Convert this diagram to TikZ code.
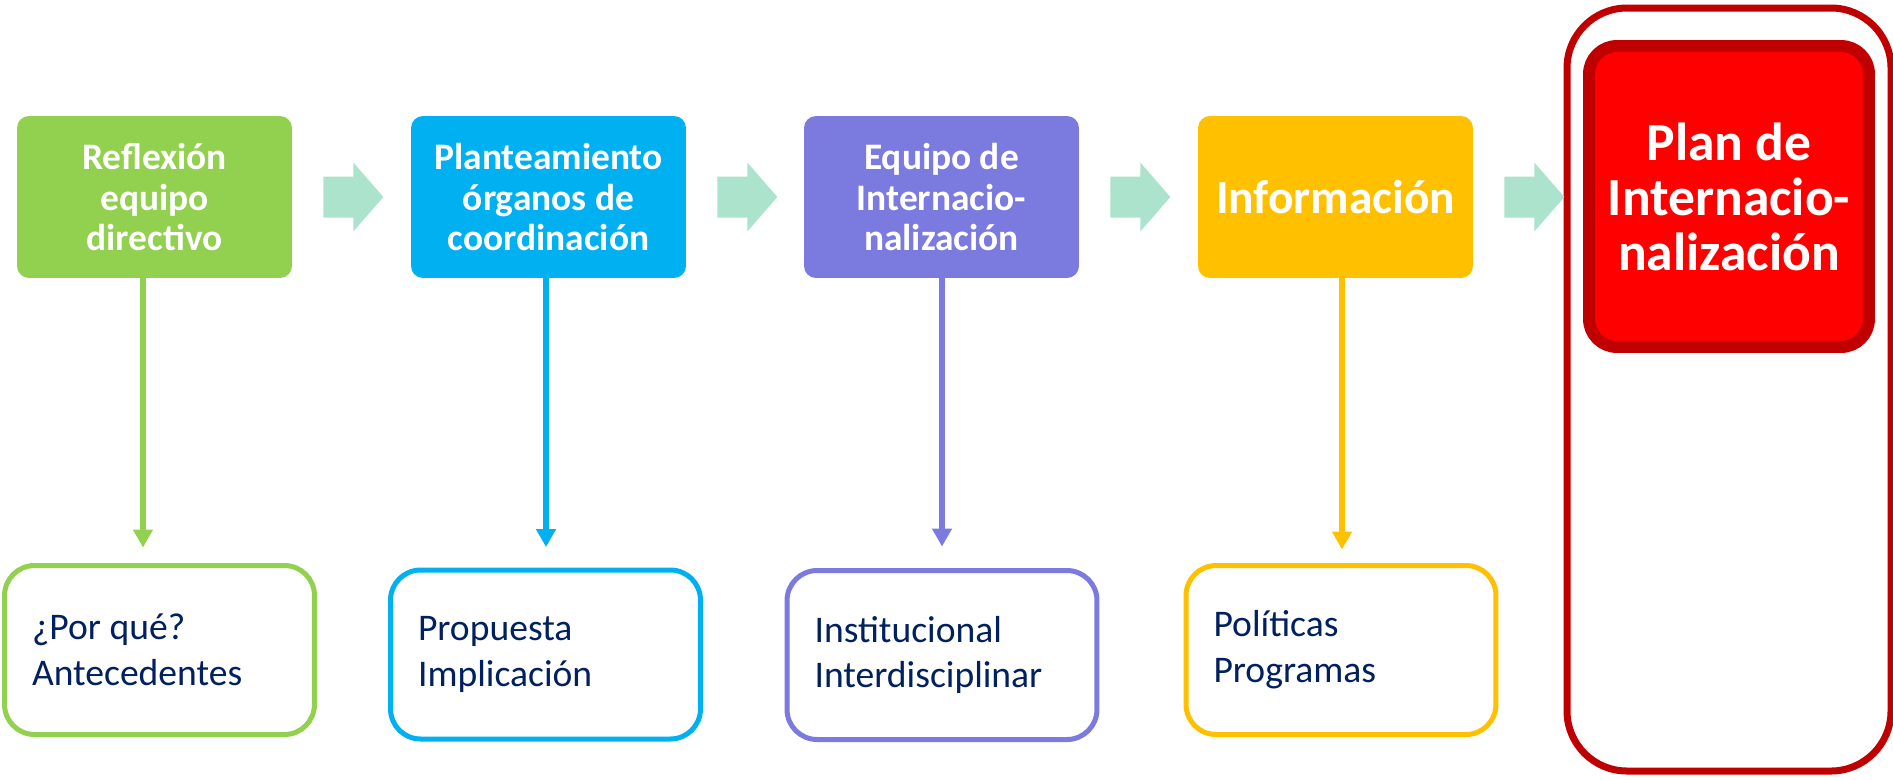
\documentclass[tikz,border=0pt]{standalone}
\usepackage{fontspec}
\setmainfont{Carlito}
\usepackage{tikz}
\usetikzlibrary{arrows.meta, calc}

\definecolor{cgreen}{HTML}{92D050}
\definecolor{cblue}{HTML}{00B0F0}
\definecolor{cpurple}{HTML}{7A7ADF}
\definecolor{cyellow}{HTML}{FFC000}
\definecolor{cmint}{HTML}{ABE3CD}
\definecolor{cnavy}{HTML}{002060}
\definecolor{cdarkred}{HTML}{C00000}
\definecolor{cred}{HTML}{FF0000}

\tikzset{
  every node/.style={execute at begin node={\spaceskip=0pt\xspaceskip=0pt}},
  topbox/.style={rounded corners=0.24cm, minimum width=5.5cm, minimum height=3.24cm, inner sep=0pt,
    align=center, text=white, font=\bfseries\fontsize{21.3}{23.2}\selectfont},
  lowbox/.style={draw, line width=0.1cm, fill=white, rounded corners=0.6cm, minimum width=6.2cm,
    minimum height=3.38cm, inner xsep=0.55cm, text width=5.1cm, align=left, text=cnavy,
    font=\fontsize{21.4}{26}\selectfont},
  dnarrow/.style={line width=0.11cm, -{Triangle[width=0.38cm,length=0.36cm]}},
  chevron/.style={fill=cmint},
  planbox/.style={draw=cdarkred, fill=cred, line width=0.24cm, rounded corners=0.56cm, minimum width=5.6cm,
    minimum height=6.02cm, align=center, text=white, font=\bfseries\fontsize{30.5}{31.3}\selectfont},
  planframe/.style={draw=cdarkred, line width=0.14cm, rounded corners=1.2cm},
}

\begin{document}
\begin{tikzpicture}[x=0.02cm, y=-0.02cm]
\useasboundingbox (0,0) rectangle (1893,779);

% top row
\node[topbox, fill=cgreen] (refl) at (154.5,197) {Reflexión\\equipo\\directivo};
\node[topbox, fill=cblue] (plant) at (548.5,197) {Planteamiento\\órganos de\\coordinación};
\node[topbox, fill=cpurple] (equipo) at (941.5,197) {Equipo de\\Internacio-\\nalización};
\node[topbox, fill=cyellow, font=\bfseries\fontsize{27}{32}\selectfont] (info) at (1335.5,197) {Información};

% plan
\draw[planframe] (1567,8) rectangle (1891,771);
\node[planbox] (plan) at (1729,196.5) {Plan de\\Internacio-\\nalización};

% bottom row
\node[lowbox, draw=cgreen] (porque) at (159.5,650) {¿Por qué?\\Antecedentes};
\node[lowbox, draw=cblue] (propuesta) at (545.5,654.5) {Propuesta\\Implicación};
\node[lowbox, draw=cpurple] (instit) at (942,655) {Institucional\\Interdisciplinar};
\node[lowbox, draw=cyellow] (polit) at (1341,650) {Políticas\\Programas};

% chevrons
\foreach \a in {refl, plant, equipo, info}
  \fill[chevron] ($(\a.east)+(31,-20.5)$) -- ++(30,0) -- ++(0,-14) -- ++(30,34.5) -- ++(-30,34.5) -- ++(0,-14) -- ++(-30,0) -- cycle;

% down arrows
\foreach \a/\b/\c/\dx/\gap in {refl/porque/cgreen/-11.5/15.5, plant/propuesta/cblue/-2.5/20.5,
    equipo/instit/cpurple/0.5/21.5, info/polit/cyellow/6.5/13.5}
  \draw[dnarrow, \c] ($(\a.south)+(\dx,0)$) -- ($(\a.south |- \b.north)+(\dx,-\gap)$);
\end{tikzpicture}
\end{document}
